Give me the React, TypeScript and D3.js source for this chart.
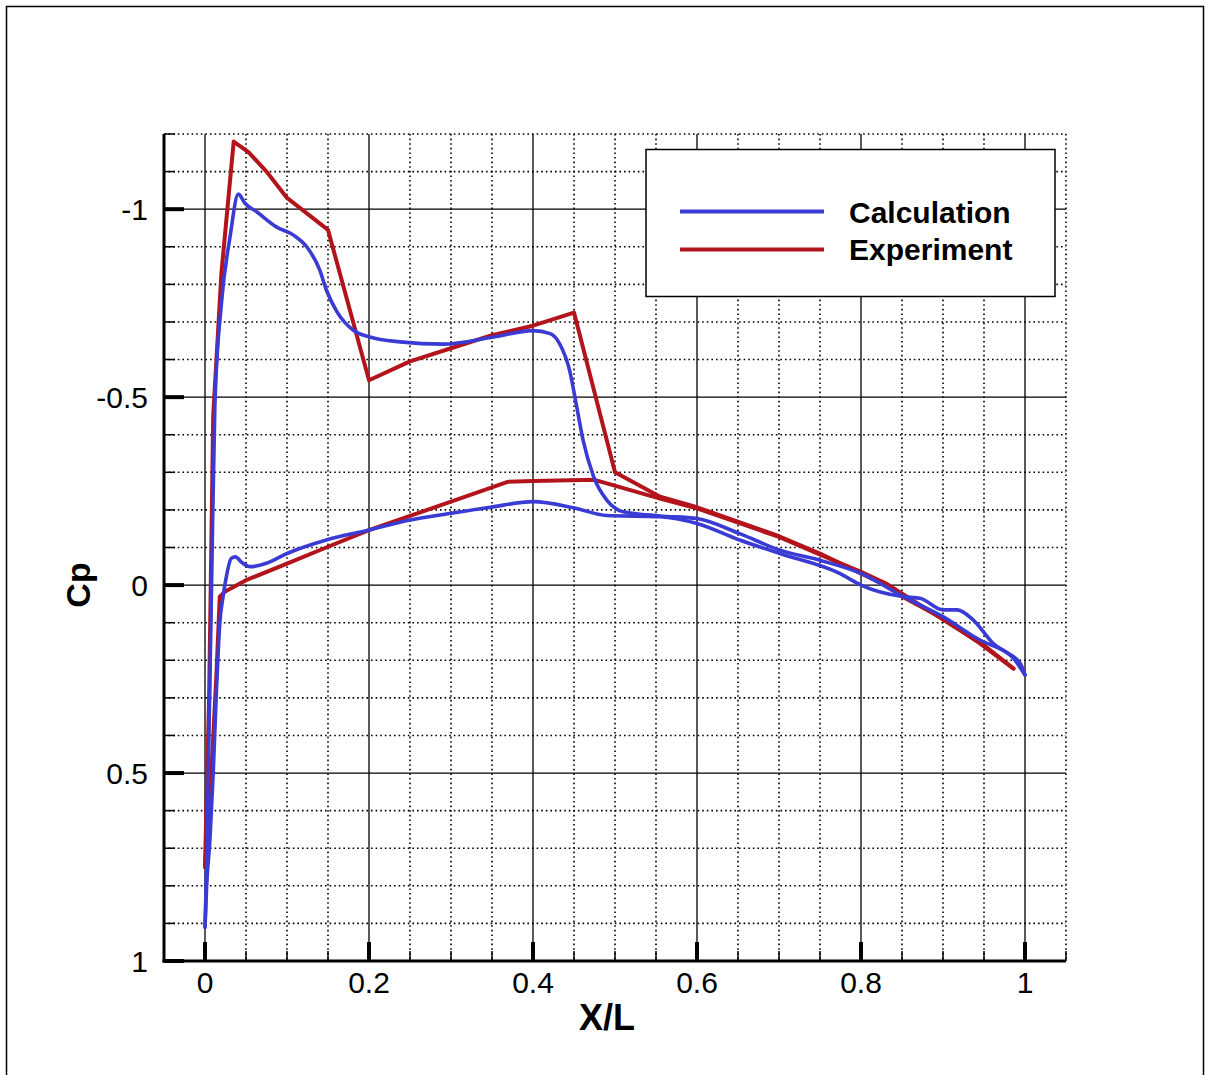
import React from "react";
import * as d3 from "d3";

// Calculation (blue) – upper and lower surface
const calcUpperX = [0.0, 0.002, 0.004, 0.008, 0.012, 0.02, 0.0305, 0.0406, 0.049, 0.063, 0.087, 0.108, 0.124, 0.14, 0.148, 0.161, 0.181, 0.201, 0.238, 0.29, 0.352, 0.4, 0.421, 0.433, 0.445, 0.453, 0.461, 0.474, 0.49, 0.51, 0.555, 0.6, 0.652, 0.701, 0.75, 0.8, 0.852, 0.9, 0.945, 0.978, 0.994, 1.0];
const calcUpperCp = [0.91, 0.75, 0.5, 0.0, -0.474, -0.749, -0.926, -1.04, -1.015, -0.993, -0.953, -0.931, -0.9, -0.838, -0.785, -0.727, -0.678, -0.66, -0.647, -0.641, -0.66, -0.677, -0.669, -0.64, -0.568, -0.478, -0.386, -0.288, -0.226, -0.195, -0.184, -0.177, -0.137, -0.093, -0.066, -0.031, 0.031, 0.084, 0.146, 0.18, 0.208, 0.239];
const calcLowerX = [0.0, 0.002, 0.006, 0.01, 0.014, 0.018, 0.022, 0.026, 0.032, 0.037, 0.045, 0.055, 0.075, 0.1, 0.148, 0.199, 0.25, 0.3, 0.348, 0.4, 0.449, 0.49, 0.555, 0.6, 0.652, 0.701, 0.774, 0.8, 0.852, 0.872, 0.9, 0.917, 0.937, 0.961, 0.986, 1.0];
const calcLowerCp = [0.91, 0.8, 0.678, 0.5, 0.279, 0.102, 0.031, -0.022, -0.071, -0.075, -0.06, -0.049, -0.058, -0.084, -0.12, -0.146, -0.173, -0.191, -0.207, -0.222, -0.206, -0.185, -0.182, -0.164, -0.12, -0.084, -0.031, 0.0, 0.031, 0.035, 0.066, 0.066, 0.093, 0.155, 0.195, 0.239];

// Experiment (red) – upper and lower surface
const expUpperX = [0.0, 0.005, 0.01, 0.02, 0.035, 0.053, 0.075, 0.1, 0.15, 0.2, 0.25, 0.3, 0.35, 0.4, 0.45, 0.5, 0.555, 0.6, 0.7, 0.75, 0.8, 0.83, 0.85, 0.9, 0.945, 0.986];
const expUpperCp = [0.75, 0.3, -0.45, -0.83, -1.18, -1.152, -1.1, -1.03, -0.945, -0.545, -0.595, -0.63, -0.665, -0.69, -0.725, -0.3, -0.235, -0.207, -0.13, -0.084, -0.031, 0.0, 0.03, 0.089, 0.155, 0.222];
const expLowerX = [0.0, 0.008, 0.014, 0.018, 0.024, 0.05, 0.1, 0.15, 0.2, 0.3, 0.37, 0.4, 0.475, 0.555, 0.6, 0.7, 0.775, 0.8, 0.83, 0.9, 0.95, 0.986];
const expLowerCp = [0.75, 0.49, 0.235, 0.031, 0.018, -0.013, -0.057, -0.102, -0.146, -0.222, -0.275, -0.277, -0.28, -0.23, -0.204, -0.128, -0.058, -0.035, -0.005, 0.092, 0.16, 0.222];

const xMajorTicks = [0, 0.2, 0.4, 0.6, 0.8, 1];
const xTickLabels = ["0", "0.2", "0.4", "0.6", "0.8", "1"];
const yMajorTicks = [-1, -0.5, 0, 0.5, 1];
const yTickLabels = ["-1", "-0.5", "0", "0.5", "1"];
const seriesNames = ["Calculation", "Experiment"];

const BLUE = "#3a3ad4";
const RED = "#b3141c";

export default function App() {
  const W = 1210, H = 1075;
  const x = d3.scaleLinear().domain([-0.05, 1.05]).range([164, 1066]);
  const y = d3.scaleLinear().domain([-1.2, 1]).range([134, 961]);

  const xMinor = d3.range(-0.05, 1.0501, 0.05).map((v) => Math.round(v * 100) / 100);
  const yMinor = d3.range(-1.2, 1.0001, 0.1).map((v) => Math.round(v * 10) / 10);
  const isXMajor = (v: number) => Math.abs(v / 0.2 - Math.round(v / 0.2)) < 1e-6;
  const isYMajor = (v: number) => Math.abs(v / 0.5 - Math.round(v / 0.5)) < 1e-6;

  const lineLin = d3.line<[number, number]>().x((d) => x(d[0])).y((d) => y(d[1])).curve(d3.curveLinear);
  const lineSmooth = d3.line<[number, number]>().x((d) => x(d[0])).y((d) => y(d[1])).curve(d3.curveMonotoneX);
  const pts = (xs: number[], ys: number[]) => xs.map((v, i) => [v, ys[i]] as [number, number]);

  const font = "'Liberation Sans', Arial, sans-serif";
  const x0 = x(-0.05), x1 = x(1.05), y0 = y(-1.2), y1 = y(1);

  return (
    <svg width={W} height={H} style={{ position: "absolute", left: 0, top: 0, background: "#fff" }} fontFamily={font}>
      <rect x={0} y={0} width={W} height={H} fill="#fff" />
      <rect x={6.5} y={6.5} width={1197} height={1090} fill="none" stroke="#000" strokeWidth={1.5} />

      {/* minor dotted grid */}
      {xMinor.filter((v) => !isXMajor(v) && v > -0.049).map((v) => (
        <line key={"gx" + v} x1={x(v)} x2={x(v)} y1={y0} y2={y1} stroke="#000" strokeWidth={1.6} strokeDasharray="1.6,3" />
      ))}
      {yMinor.filter((v) => !isYMajor(v) && v < 0.999).map((v) => (
        <line key={"gy" + v} x1={x0} x2={x1} y1={y(v)} y2={y(v)} stroke="#000" strokeWidth={1.6} strokeDasharray="1.6,3" />
      ))}
      {/* major solid grid */}
      {xMajorTicks.map((v) => (
        <line key={"Gx" + v} x1={x(v)} x2={x(v)} y1={y0} y2={y1} stroke="#000" strokeWidth={1.3} />
      ))}
      {yMajorTicks.filter((v) => v < 1).map((v) => (
        <line key={"Gy" + v} x1={x0} x2={x1} y1={y(v)} y2={y(v)} stroke="#000" strokeWidth={1.3} />
      ))}

      {/* curves */}
      <path d={lineLin(pts(expUpperX, expUpperCp)) || ""} fill="none" stroke={RED} strokeWidth={4} strokeLinejoin="round" strokeLinecap="round" />
      <path d={lineLin(pts(expLowerX, expLowerCp)) || ""} fill="none" stroke={RED} strokeWidth={4} strokeLinejoin="round" strokeLinecap="round" />
      <path d={lineSmooth(pts(calcUpperX, calcUpperCp)) || ""} fill="none" stroke={BLUE} strokeWidth={3.6} strokeLinejoin="round" strokeLinecap="round" />
      <path d={lineSmooth(pts(calcLowerX, calcLowerCp)) || ""} fill="none" stroke={BLUE} strokeWidth={3.6} strokeLinejoin="round" strokeLinecap="round" />

      {/* axes */}
      <line x1={x0} x2={x0} y1={y0} y2={y1 + 1.5} stroke="#000" strokeWidth={3} />
      <line x1={x0 - 1.5} x2={x1} y1={y1} y2={y1} stroke="#000" strokeWidth={3} />
      {xMinor.filter((v) => !isXMajor(v) && v > -0.049).map((v) => (
        <line key={"tx" + v} x1={x(v)} x2={x(v)} y1={y1} y2={y1 - 10} stroke="#000" strokeWidth={1.5} />
      ))}
      {xMajorTicks.map((v) => (
        <line key={"Tx" + v} x1={x(v)} x2={x(v)} y1={y1} y2={y1 - 19} stroke="#000" strokeWidth={4} />
      ))}
      {yMinor.filter((v) => !isYMajor(v)).map((v) => (
        <line key={"ty" + v} x1={x0} x2={x0 + 11} y1={y(v)} y2={y(v)} stroke="#000" strokeWidth={1.5} />
      ))}
      {yMajorTicks.map((v) => (
        <line key={"Ty" + v} x1={x0} x2={x0 + 20} y1={y(v)} y2={y(v)} stroke="#000" strokeWidth={4} />
      ))}

      {/* tick labels */}
      {xMajorTicks.map((v, i) => (
        <text key={"lx" + v} x={x(v)} y={993} textAnchor="middle" fontSize={30}>{xTickLabels[i]}</text>
      ))}
      {yMajorTicks.map((v, i) => (
        <text key={"ly" + v} x={148} y={y(v) + 11} textAnchor="end" fontSize={30}>{yTickLabels[i]}</text>
      ))}

      {/* axis titles */}
      <text x={607} y={1030} textAnchor="middle" fontSize={36} fontWeight="bold">X/L</text>
      <text transform="translate(90,585) rotate(-90)" textAnchor="middle" fontSize={34} fontWeight="bold">Cp</text>

      {/* legend */}
      <rect x={646} y={149.5} width={409} height={147} fill="#fff" stroke="#000" strokeWidth={1.5} />
      <line x1={680} x2={824} y1={211.5} y2={211.5} stroke={BLUE} strokeWidth={4} />
      <line x1={680} x2={824} y1={249.5} y2={249.5} stroke={RED} strokeWidth={4} />
      <text x={849} y={222.5} fontSize={30} fontWeight="bold">{seriesNames[0]}</text>
      <text x={849} y={259.5} fontSize={30} fontWeight="bold">{seriesNames[1]}</text>
    </svg>
  );
}
